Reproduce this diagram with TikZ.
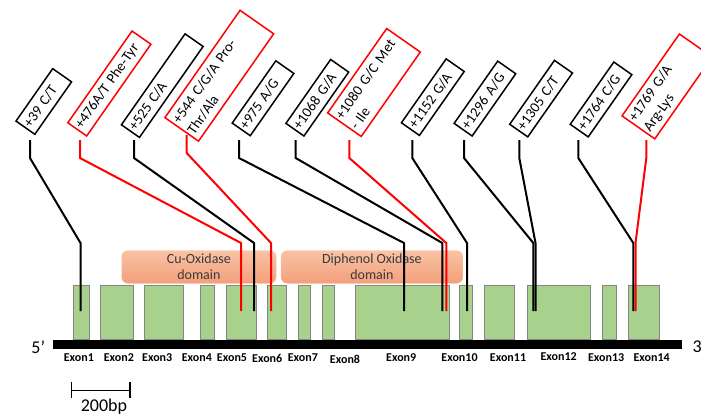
\documentclass[tikz,border=0pt]{standalone}
\usepackage{fontspec}
\setmainfont{Carlito}
\definecolor{exongreen}{HTML}{A9D18E}
\definecolor{exonedge}{HTML}{858585}
\definecolor{domtop}{HTML}{F9C3A5}
\definecolor{dombot}{HTML}{F39F7B}
\definecolor{domtext}{HTML}{3A3A3A}
\tikzstyle{snp}=[draw, line width=1.5pt, rotate=55, anchor=west, inner xsep=2.5pt, inner ysep=0pt, align=left, font=\fontsize{14.5}{18}\selectfont]
\tikzstyle{exon}=[draw=exonedge, fill=exongreen, line width=0.8pt, anchor=south west, inner sep=0pt, minimum height=54pt]
\tikzstyle{domainbox}=[rounded corners=6pt, top color=domtop, bottom color=dombot, draw=domtop, text=domtext, align=center, inner sep=0pt, minimum height=32.6pt, font=\fontsize{14}{16}\selectfont]
\tikzstyle{exlabel}=[inner sep=0pt, font=\fontsize{12}{14}\selectfont\bfseries]
\tikzstyle{bigtext}=[inner sep=0pt, font=\fontsize{18}{20}\selectfont]
\newcommand{\snp}{\node[snp]}
\newcommand{\exon}{\node[exon]}

\begin{document}
\begin{tikzpicture}[x=1pt, y=-1pt
    ,every edge/.style={
        draw, line width=2pt,
        to path={-- ++(0,18) -- (\tikztotarget |- 0,243) -- (\tikztotarget)} }
]
\useasboundingbox (0,0) rectangle (701,416);

\exon[minimum width=15.7pt] (x1) at (73.3,340) {};
\exon[minimum width=32.4pt] (x2) at (100.3,340) {};
\exon[minimum width=38.7pt] (x3) at (144,340) {};
\exon[minimum width=13.4pt] (x4) at (200.3,340) {};
\exon[minimum width=29.7pt] (x5) at (226,340) {};
\exon[minimum width=18.4pt] (x6) at (267.3,340) {};
\exon[minimum width=12.6pt] (x7) at (297.7,340) {};
\exon[minimum width=12pt]   (x8) at (322.3,340) {};
\exon[minimum width=94.3pt] (x9) at (355,340) {};
\exon[minimum width=12.7pt] (x10) at (459.3,340) {};
\exon[minimum width=30pt]   (x11) at (484,340) {};
\exon[minimum width=63pt]   (x12) at (526.7,340) {};
\exon[minimum width=13.4pt] (x13) at (602.3,340) {};
\exon[minimum width=30.7pt] (x14) at (628,340) {};

\fill (53.3,340) rectangle (682.3,349);
\node[bigtext, anchor=base] (five) at (38.3,353.3) {5’};
\node[bigtext, anchor=base west] (three) at (692.3,352.7) {3};

\node[exlabel] (l1) at (78.8,358) {Exon1};
\node[exlabel] (l2) at (118.8,358) {Exon2};
\node[exlabel] (l3) at (157.2,358) {Exon3};
\node[exlabel] (l4) at (196.8,358) {Exon4};
\node[exlabel] (l5) at (232,358) {Exon5};
\node[exlabel] (l6) at (267.2,358) {Exon6};
\node[exlabel] (l7) at (302.8,358) {Exon7};
\node[exlabel] (l8) at (345,359) {Exon8};
\node[exlabel] (l9) at (401.2,358) {Exon9};
\node[exlabel] (l10) at (459.5,358) {Exon10};
\node[exlabel] (l11) at (508,358) {Exon11};
\node[exlabel] (l12) at (558.7,356.5) {Exon12};
\node[exlabel] (l13) at (606.2,358) {Exon13};
\node[exlabel] (l14) at (651.7,358) {Exon14};

\node[domainbox, minimum width=154.3pt] (cu) at (198.9,267) {Cu-Oxidase\\domain};
\node[domainbox, minimum width=181.7pt] (diph) at (371.9,267) {Diphenol Oxidase\\domain};

\draw[line width=1.3pt] (71.7,381.7) -- (71.7,398) (71.7,390.7) -- (130,390.7) (130,381.7) -- (130,398);
\node[bigtext, anchor=base] (bp) at (104,411.8) {200bp};

\snp[text width=59pt, minimum height=23pt] (v39) at (25,128.3) {+39 C/T};
\snp[red, text width=107pt, minimum height=23pt] (v476) at (76.8,130) {\textcolor{black}{+476A/T Phe-Tyr}};
\snp[text width=106pt, minimum height=22pt] (v525) at (130,131.7) {+525 C/A};
\snp[red, text width=126pt, minimum height=41pt] (v544) at (181.3,130) {\textcolor{black}{+544 C/G/A Pro-\\Thr/Ala}};
\snp[text width=71pt, minimum height=22pt] (v975) at (240.8,130) {+975 A/G};
\snp[text width=73pt, minimum height=22pt] (v1068) at (294.5,130.3) {+1068 G/A};
\snp[red, text width=98pt, minimum height=41pt] (v1080) at (344,125.3) {\textcolor{black}{\mbox{+1080 G/C Met}\\- Ile}};
\snp[text width=73pt, minimum height=22pt] (v1152) at (410,129.7) {+1152 G/A};
\snp[text width=71pt, minimum height=22pt] (v1296) at (462.7,130.3) {+1296 A/G};
\snp[text width=73pt, minimum height=22pt] (v1305) at (518.3,131.2) {+1305 C/T};
\snp[text width=71pt, minimum height=22pt] (v1764) at (578.8,131.2) {+1764 C/G};
\snp[red, text width=95pt, minimum height=40pt] (v1769) at (638,128) {\textcolor{black}{+1769 G/A\\Arg-Lys}};

\coordinate (t39) at (30,140);      \coordinate (e39) at (80.5,311);
\coordinate (t476) at (80,140);     \coordinate (e476) at (241,311);
\coordinate (t525) at (134,140);    \coordinate (e525) at (254,311);
\coordinate (t544) at (186.7,135);  \coordinate (e544) at (271,311);
\coordinate (t975) at (239,140);    \coordinate (e975) at (404,311);
\coordinate (t1068) at (295.7,140); \coordinate (e1068) at (442.3,311);
\coordinate (t1080) at (349.3,140); \coordinate (e1080) at (446.3,311);
\coordinate (t1152) at (412.3,140); \coordinate (e1152) at (467,311);
\coordinate (t1296) at (464,140);   \coordinate (e1296) at (533.3,311);
\coordinate (t1305) at (519.3,140); \coordinate (e1305) at (535.5,311);
\coordinate (t1764) at (578.3,140); \coordinate (e1764) at (633.3,311);
\coordinate (t1769) at (646.3,140); \coordinate (e1769) at (635.5,311);

\path
(t39) edge (e39)
(t525) edge (e525)
(t975) edge (e975)
(t1068) edge (e1068)
(t1152) edge (e1152)
(t1296) edge (e1296)
(t1305) edge (e1305)
(t1764) edge (e1764)
(t476) edge[red] (e476)
(t544) edge[red] (e544)
(t1080) edge[red] (e1080)
(t1769) edge[red] (e1769)
;
\end{tikzpicture}
\end{document}
